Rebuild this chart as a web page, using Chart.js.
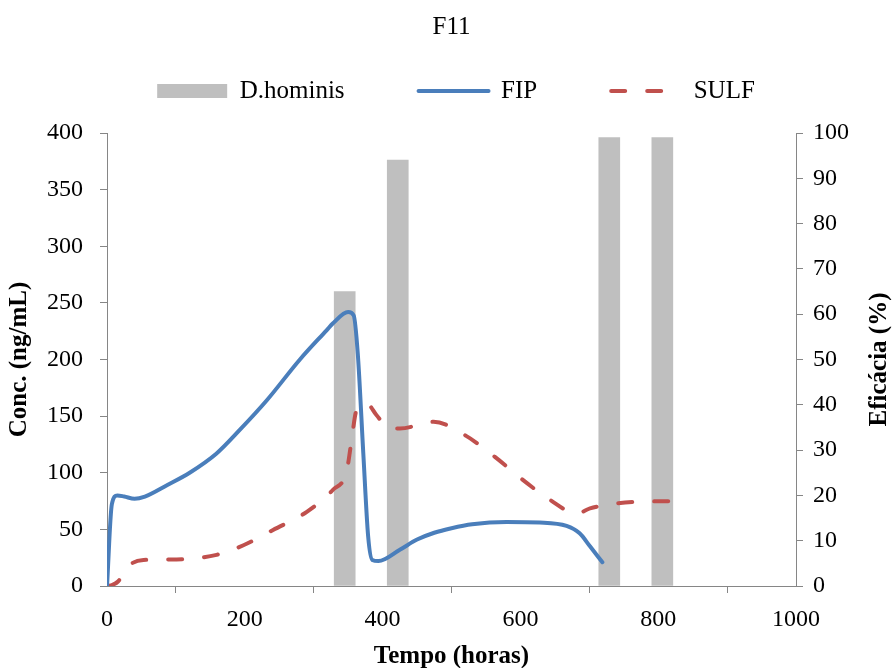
<!DOCTYPE html>
<html>
<head>
<meta charset="utf-8">
<script src="https://cdn.jsdelivr.net/npm/chart.js@4.4.1/dist/chart.umd.min.js"></script>
<style>html,body{margin:0;padding:0;background:#fff;}canvas{display:block;}</style>
</head>
<body>
<canvas id="c" width="896" height="668"></canvas>
<script>
// ---- data ----
const chartTitle = 'F11';
const xAxisTitle = 'Tempo (horas)';
const yAxisTitle = 'Conc. (ng/mL)';
const y2AxisTitle = 'Eficácia (%)';
const seriesNames = ['D.hominis', 'FIP', 'SULF'];

// D.hominis efficacy bars (%), right axis
const barHours = [345, 422, 729, 806];
const barEfficacy = [65, 94, 99, 99];

// FIP concentration (ng/mL), left axis
const fipHours = [0, 7, 15, 25, 40, 55, 87, 120, 159, 193, 232, 280, 319, 328, 350, 358, 364, 372, 379, 385, 394, 425, 450, 475, 500, 530, 580, 628, 667, 686, 701, 719];
const fipConc  = [0, 72, 80, 79, 77, 79, 89, 100, 117, 138, 164, 200, 226, 232, 242, 239, 205, 117, 44, 23, 22, 32, 41, 47, 51, 54.5, 56.5, 56, 53, 46.5, 35, 21];

// SULF concentration (ng/mL), left axis
const sulfHours = [0, 8, 16, 33, 53, 101, 159, 198, 241, 290, 328, 348, 355, 362, 377, 391, 410, 425, 474, 520, 563, 604, 643, 682, 701, 740, 841];
const sulfConc  = [0, 1, 4, 18.5, 23, 23.5, 27.5, 36, 49.5, 65.5, 85, 102, 129, 155, 161, 151, 139, 139, 145, 133, 114, 93.5, 76, 64, 68.5, 73, 75.3];

// axis ranges / tick steps
const xTicks = {min: 0, max: 1000, step: 200};
const yTicks = {min: 0, max: 400, step: 50};
const y2Ticks = {min: 0, max: 100, step: 10};

// ---- styles ----
const SERIF = "'Liberation Serif', 'Times New Roman', serif";
const GRAY_BAR = '#BFBFBF';
const BLUE = '#4A7EBB';
const RED = '#C0504D';
const AXIS = '#868686';
const SULF_DASH = [14, 22];

const toXY = (xs, ys) => xs.map((x, i) => ({x: x, y: ys[i]}));

const axisCommon = {
  border: {display: true, color: AXIS, width: 1},
  grid: {drawOnChartArea: false, drawTicks: true, tickLength: 7, color: AXIS, tickColor: AXIS}
};

// right-axis title, read bottom-to-top like the reference
const rightAxisTitle = {
  id: 'rightAxisTitle',
  afterDraw(chart) {
    const s = chart.scales.y2;
    const ctx = chart.ctx;
    ctx.save();
    ctx.font = 'bold 25px ' + SERIF;
    ctx.fillStyle = '#000';
    ctx.textAlign = 'center';
    ctx.textBaseline = 'middle';
    ctx.translate(s.right - 16, (s.top + s.bottom) / 2);
    ctx.rotate(-Math.PI / 2);
    ctx.fillText(y2AxisTitle, 0, 0);
    ctx.restore();
  }
};

new Chart(document.getElementById('c'), {
  type: 'line',
  plugins: [rightAxisTitle],
  data: {
    datasets: [
      {
        type: 'bar',
        label: seriesNames[0],
        data: toXY(barHours, barEfficacy),
        yAxisID: 'y2',
        backgroundColor: GRAY_BAR,
        borderWidth: 0,
        barThickness: 21,
        order: 2
      },
      {
        type: 'line',
        label: seriesNames[1],
        data: toXY(fipHours, fipConc),
        yAxisID: 'y',
        borderColor: BLUE,
        backgroundColor: BLUE,
        borderWidth: 4,
        pointRadius: 0,
        cubicInterpolationMode: 'monotone',
        borderCapStyle: 'round',
        borderJoinStyle: 'round',
        fill: false,
        order: 0
      },
      {
        type: 'line',
        label: seriesNames[2],
        data: toXY(sulfHours, sulfConc),
        yAxisID: 'y',
        borderColor: RED,
        backgroundColor: RED,
        borderWidth: 4,
        borderDash: SULF_DASH,
        borderCapStyle: 'round',
        pointRadius: 0,
        cubicInterpolationMode: 'monotone',
        fill: false,
        order: 1
      }
    ]
  },
  options: {
    responsive: false,
    animation: false,
    devicePixelRatio: 1,
    layout: {padding: {left: 16, right: 0, top: 0, bottom: 0}},
    plugins: {
      tooltip: {enabled: false},
      title: {
        display: true,
        text: chartTitle,
        fullSize: false,
        color: '#000',
        font: {family: SERIF, size: 25, weight: 'normal', lineHeight: 1.2},
        padding: {top: 12, bottom: -37.5}
      },
      subtitle: {
        // empty spacer between legend and plot area
        display: true,
        text: '',
        weight: 500,
        font: {family: SERIF, size: 10, lineHeight: 1},
        padding: {top: 0, bottom: 9.5}
      },
      legend: {
        display: true,
        position: 'top',
        align: 'center',
        labels: {
          color: '#000',
          font: {family: SERIF, size: 25},
          usePointStyle: true,
          pointStyleWidth: 70,
          boxHeight: 14,
          padding: 74,
          generateLabels: (chart) => chart.data.datasets.map((ds, i) => ({
            text: ds.label,
            datasetIndex: i,
            hidden: false,
            fillStyle: ds.type === 'bar' ? ds.backgroundColor : 'rgba(0,0,0,0)',
            strokeStyle: ds.type === 'bar' ? ds.backgroundColor : ds.borderColor,
            lineWidth: ds.type === 'bar' ? 0 : ds.borderWidth,
            lineDash: ds.borderDash || [],
            lineCap: 'round',
            pointStyle: ds.type === 'bar' ? 'rect' : 'line',
            fontColor: '#000'
          }))
        }
      }
    },
    scales: {
      x: Object.assign({}, axisCommon, {
        type: 'linear',
        position: 'bottom',
        min: xTicks.min, max: xTicks.max,
        offset: false,
        ticks: {stepSize: xTicks.step, color: '#000', padding: 12,
                font: {family: SERIF, size: 24, lineHeight: 1.2}, maxRotation: 0,
                callback: (v) => String(v)},
        title: {display: true, text: xAxisTitle, color: '#000',
                font: {family: SERIF, size: 25, weight: 'bold', lineHeight: 1.0},
                padding: {top: -1.3, bottom: -1.5}}
      }),
      y: Object.assign({}, axisCommon, {
        type: 'linear',
        position: 'left',
        min: yTicks.min, max: yTicks.max,
        ticks: {stepSize: yTicks.step, color: '#000', padding: 17,
                font: {family: SERIF, size: 24, lineHeight: 1.2}},
        title: {display: true, text: yAxisTitle, color: '#000',
                font: {family: SERIF, size: 25, weight: 'bold', lineHeight: 1.2},
                padding: {top: -11, bottom: -5}}
      }),
      y2: Object.assign({}, axisCommon, {
        type: 'linear',
        position: 'right',
        min: y2Ticks.min, max: y2Ticks.max,
        ticks: {stepSize: y2Ticks.step, color: '#000', padding: 10,
                font: {family: SERIF, size: 24, lineHeight: 1.2}},
        title: {display: false},
        afterFit: (s) => { s.width += 37; }
      })
    }
  }
});
</script>
</body>
</html>
